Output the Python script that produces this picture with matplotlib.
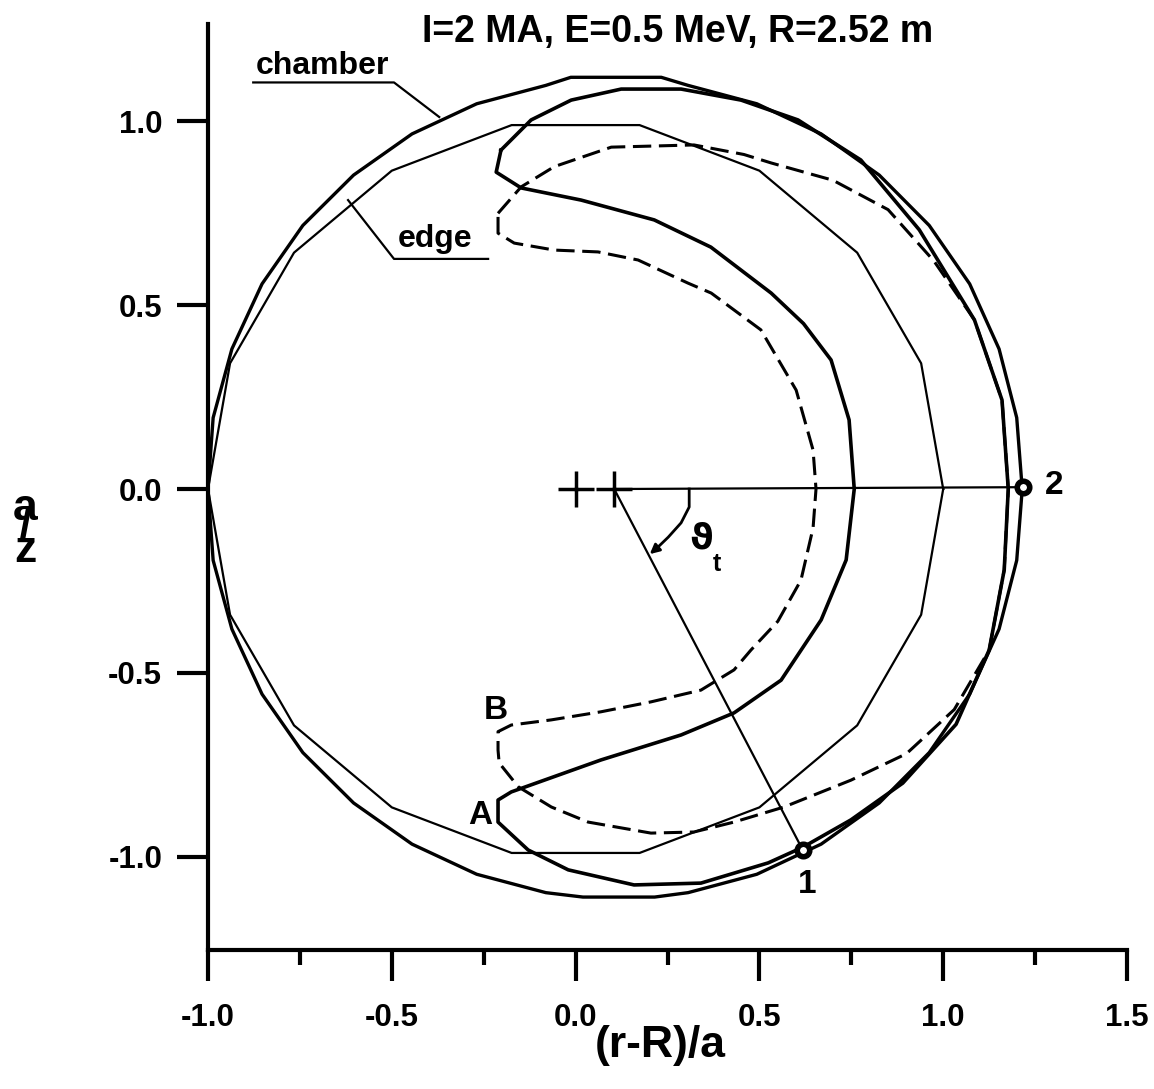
import matplotlib
matplotlib.use("Agg")
import matplotlib.pyplot as plt

plt.rcParams['font.family'] = ['Liberation Sans', 'DejaVu Sans']
plt.rcParams['font.weight'] = 'bold'

# chamber wall (centre at r-R ~ 0.11)
chamber_x = [1.215, 1.200, 1.152, 1.072, 0.962, 0.826, 0.668, 0.493, 0.306, 0.233, -0.013,
             -0.081, -0.269, -0.445, -0.604, -0.742, -0.853, -0.935, -0.986, -1.0,
             -0.986, -0.935, -0.853, -0.742, -0.604, -0.445, -0.269, -0.081, 0.020, 0.215,
             0.306, 0.493, 0.668, 0.826, 0.962, 1.072, 1.152, 1.200, 1.215]
chamber_y = [0.0, 0.194, 0.381, 0.558, 0.717, 0.854, 0.966, 1.048, 1.098, 1.120, 1.120,
             1.098, 1.048, 0.966, 0.854, 0.717, 0.558, 0.381, 0.194, 0.0,
             -0.194, -0.381, -0.558, -0.717, -0.854, -0.966, -1.048, -1.098, -1.110, -1.110,
             -1.098, -1.048, -0.966, -0.854, -0.717, -0.558, -0.381, -0.194, 0.0]

# plasma edge
edge_x = [1.0, 0.94, 0.766, 0.5, 0.174, -0.174, -0.5, -0.766, -0.94, -1.0,
          -0.94, -0.766, -0.5, -0.174, 0.174, 0.5, 0.766, 0.94, 1.0]
edge_y = [0.0, 0.342, 0.643, 0.866, 0.990, 0.990, 0.866, 0.643, 0.342, 0.0,
          -0.342, -0.643, -0.866, -0.990, -0.990, -0.866, -0.643, -0.342, 0.0]

# orbit A (solid)
orbA_x = [-0.203, -0.121, -0.012, 0.124, 0.287, 0.450, 0.605, 0.776, 0.935, 1.085, 1.160,
          1.177, 1.166, 1.125, 1.035, 0.890, 0.749, 0.619, 0.524, 0.341, 0.159, -0.020,
          -0.129, -0.211, -0.211, -0.175, 0.069, 0.287, 0.431, 0.559, 0.668, 0.736, 0.758,
          0.744, 0.695, 0.620, 0.532, 0.368, 0.214, 0.015, -0.148, -0.216, -0.203]
orbA_y = [0.922, 1.004, 1.058, 1.088, 1.088, 1.058, 1.004, 0.895, 0.705, 0.460, 0.242,
          0.0, -0.220, -0.438, -0.640, -0.800, -0.900, -0.974, -1.017, -1.072, -1.077, -1.036,
          -0.982, -0.906, -0.846, -0.824, -0.737, -0.669, -0.609, -0.520, -0.356, -0.193, 0.0,
          0.188, 0.351, 0.450, 0.533, 0.658, 0.732, 0.786, 0.819, 0.862, 0.922]

# orbit B (dashed)
orbB_x = [-0.211, -0.148, -0.058, 0.097, 0.322, 0.458, 0.532, 0.700, 0.850, 0.975, 1.085,
          1.160, 1.177, 1.166, 1.125, 1.030, 0.900, 0.749, 0.567, 0.431, 0.322, 0.205, 0.034,
          -0.066, -0.156, -0.208, -0.211, -0.211, -0.175, -0.066, 0.069, 0.205, 0.341, 0.431,
          0.477, 0.550, 0.613, 0.646, 0.654, 0.646, 0.600, 0.504, 0.369, 0.306, 0.170, 0.061,
          -0.058, -0.167, -0.211, -0.211]
orbB_y = [0.750, 0.822, 0.877, 0.930, 0.936, 0.910, 0.887, 0.840, 0.760, 0.620, 0.460,
          0.242, 0.0, -0.220, -0.438, -0.600, -0.720, -0.792, -0.865, -0.906, -0.933, -0.936, -0.906,
          -0.865, -0.810, -0.745, -0.710, -0.660, -0.642, -0.628, -0.606, -0.579, -0.547, -0.492,
          -0.438, -0.360, -0.248, -0.106, 0.0, 0.106, 0.269, 0.433, 0.533, 0.560, 0.623, 0.645,
          0.650, 0.669, 0.696, 0.750]

centres_x = [0.0, 0.105]
pt1 = (0.618, -0.982)
pt2 = (1.217, 0.005)
arc_x = [0.309, 0.309, 0.287, 0.252, 0.224, 0.206]
arc_y = [0.0, -0.049, -0.092, -0.131, -0.158, -0.174]

fig = plt.figure(figsize=(11.54, 10.89), dpi=100)
ax = fig.add_axes([208/1154, 1-950/1089, 919/1154, 926/1089])
ax.set_xlim(-1.0, 1.5)
ax.set_ylim(-1.254, 1.265)

ax.plot(chamber_x, chamber_y, color='black', lw=2.4)
ax.plot(edge_x, edge_y, color='black', lw=1.6)
ax.plot(orbA_x, orbA_y, color='black', lw=2.6)
ax.plot(orbB_x, orbB_y, color='black', lw=2.2, dashes=(6, 2.5))

# radial lines and points
ax.plot([centres_x[1], pt2[0]], [0, pt2[1]], color='black', lw=1.6)
ax.plot([centres_x[1], pt1[0]], [0, pt1[1]], color='black', lw=1.6)
ax.plot(centres_x, [0, 0], linestyle='none', marker='+', ms=26, mew=2.5, color='black')
ax.plot([pt1[0], pt2[0]], [pt1[1], pt2[1]], linestyle='none', marker='o', ms=9, mew=4,
        mfc='white', mec='black')
ax.plot(arc_x[:-1], arc_y[:-1], color='black', lw=2)
ax.annotate('', xy=(arc_x[-1] - 0.01, arc_y[-1] - 0.008), xytext=(arc_x[-2], arc_y[-2]),
            arrowprops=dict(arrowstyle='-|>', color='black', lw=2, mutation_scale=14))
ax.text(0.342, -0.135, '\u03d1', fontsize=26, ha='center', va='center', fontweight='bold',
        family=['DejaVu Sans'])
ax.text(0.384, -0.205, 't', fontsize=18, ha='center', va='center', fontweight='bold')

# leaders
ax.plot([-0.877, -0.494, -0.371], [1.106, 1.106, 1.012], color='black', lw=1.6)
ax.text(-0.869, 1.129, 'chamber', fontsize=23, ha='left', va='baseline')
ax.plot([-0.238, -0.494, -0.619], [0.626, 0.626, 0.786], color='black', lw=1.6)
ax.text(-0.483, 0.658, 'edge', fontsize=23, ha='left', va='baseline')

ax.text(-0.26, -0.887, 'A', fontsize=24, ha='center', va='center')
ax.text(-0.216, -0.602, 'B', fontsize=24, ha='center', va='center')
ax.text(0.629, -1.077, '1', fontsize=24, ha='center', va='center')
ax.text(1.301, 0.01, '2', fontsize=24, ha='center', va='center')

for s in ['top', 'right']:
    ax.spines[s].set_visible(False)
for s in ['left', 'bottom']:
    ax.spines[s].set_linewidth(3)
ax.set_xticks([-1.0, -0.5, 0.0, 0.5, 1.0, 1.5])
ax.set_xticklabels(['-1.0', '-0.5', '0.0', '0.5', '1.0', '1.5'])
ax.set_xticks([-0.75, -0.25, 0.25, 0.75, 1.25], minor=True)
ax.set_yticks([-1.0, -0.5, 0.0, 0.5, 1.0])
ax.set_yticklabels(['-1.0', '-0.5', '0.0', '0.5', '1.0'])
ax.tick_params(axis='both', which='major', direction='out', length=22, width=3,
               labelsize=22.5)
ax.tick_params(axis='x', which='major', pad=16)
ax.tick_params(axis='y', which='major', pad=11)
ax.tick_params(axis='x', which='minor', direction='out', length=11, width=3)

fig.text(422/1154, 1-42/1089, 'I=2 MA, E=0.5 MeV, R=2.52 m', fontsize=27,
         ha='left', va='baseline')
fig.text(660/1154, 1-1057/1089, '(r-R)/a', fontsize=32, ha='center', va='baseline')
fig.text(25/1154, 1-562/1089, 'a\n/\nz', fontsize=32, ha='center', va='baseline',
         linespacing=0.38, multialignment='center')

fig.savefig('out.png', dpi=100)
